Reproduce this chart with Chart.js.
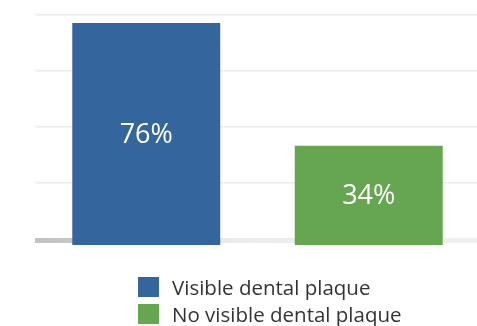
<!DOCTYPE html>
<html>
<head>
<meta charset="utf-8">
<script src="https://cdn.jsdelivr.net/npm/chart.js@4/dist/chart.umd.min.js"></script>
<style>
  html, body { margin: 0; padding: 0; background: #ffffff; overflow: hidden; width: 477px; height: 326px; }
  #wrap { position: relative; width: 482px; height: 326px; }
  #legend { position: absolute; left: 138px; top: 273px; font-family: "Open Sans", sans-serif; font-size: 20.5px; color: #333333; }
  .item { display: flex; align-items: center; height: 27px; }
  .box { width: 21px; height: 20px; margin-right: 13px; }
</style>
</head>
<body>
<div id="wrap">
  <canvas id="c" width="482" height="326"></canvas>
  <div id="legend"></div>
</div>
<script>
const categories = ["Visible dental plaque", "No visible dental plaque"];
const values = [76, 34];
const valueLabels = ["76%", "34%"];
const barColors = ["#34659c", "#66a650"];
const gridValues = [1.5, 21.2, 40.4, 59.6, 78.8];

const labelPlugin = {
  id: 'barLabels',
  afterDatasetsDraw(chart) {
    const ctx = chart.ctx;
    const meta = chart.getDatasetMeta(0);
    ctx.save();
    ctx.fillStyle = '#ffffff';
    ctx.font = '27px "Open Sans", sans-serif';
    ctx.textAlign = 'center';
    ctx.textBaseline = 'middle';
    meta.data.forEach((bar, i) => {
      const props = bar.getProps(['x', 'y', 'base'], true);
      ctx.fillText(valueLabels[i], props.x, (props.y + props.base) / 2 + 1);
    });
    ctx.restore();
  }
};

function floorColor(c) {
  const area = c.chart.chartArea;
  if (!area) return '#cccccc';
  const g = c.chart.ctx.createLinearGradient(area.left, 0, area.right, 0);
  g.addColorStop(0, '#c2c2c2');
  g.addColorStop(0.1, '#c8c8c8');
  g.addColorStop(0.45, '#ececec');
  g.addColorStop(1, '#f0f0f0');
  return g;
}

const chart = new Chart(document.getElementById('c'), {
  type: 'bar',
  data: {
    labels: categories,
    datasets: [{
      label: 'Share',
      data: values,
      backgroundColor: barColors,
      borderWidth: 0,
      barPercentage: 0.665,
      categoryPercentage: 1.0
    }]
  },
  options: {
    responsive: false,
    animation: false,
    devicePixelRatio: 1,
    layout: { padding: { left: 35, right: 2, top: 11.4, bottom: 81 } },
    plugins: { legend: { display: false }, tooltip: { enabled: false } },
    scales: {
      x: { display: false, offset: true },
      y: {
        min: 0, max: 80,
        display: true,
        border: { display: false },
        ticks: { display: false },
        afterBuildTicks(scale) { scale.ticks = gridValues.map(v => ({ value: v })); },
        grid: {
          drawTicks: false,
          color: (c) => c.index === 0 ? floorColor(c) : '#ececec',
          lineWidth: (c) => c.index === 0 ? 5 : 1.5
        }
      }
    }
  },
  plugins: [labelPlugin]
});

const legendEl = document.getElementById('legend');
categories.forEach((name, i) => {
  const row = document.createElement('div');
  row.className = 'item';
  const box = document.createElement('span');
  box.className = 'box';
  box.style.background = barColors[i];
  const txt = document.createElement('span');
  txt.textContent = name;
  row.appendChild(box);
  row.appendChild(txt);
  legendEl.appendChild(row);
});
</script>
</body>
</html>
